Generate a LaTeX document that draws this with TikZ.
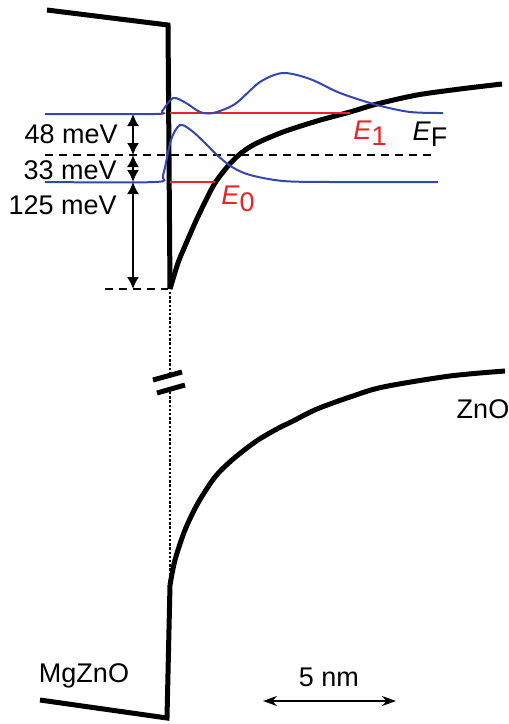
\documentclass[tikz,border=0pt]{standalone}
\usepackage{fontspec}
\setmainfont{Liberation Sans}
\usetikzlibrary{arrows.meta}
\definecolor{wfblue}{RGB}{55,70,175}
\definecolor{lvlred}{RGB}{235,35,40}
\newcommand{\lvl}[1]{\textit{E}\raisebox{-0.45ex}{#1}}

\begin{document}
\begin{tikzpicture}[x=0.5pt,y=-0.5pt,
    band/.style={line width=2.5pt},
    wave/.style={wfblue,line width=1pt},
    level/.style={lvlred,line width=1pt},
    fermi/.style={line width=0.9pt,dash pattern=on 4pt off 3pt},
    dotline/.style={line width=0.6pt,dash pattern=on 1.2pt off 0.9pt},
    mev/.style={{Latex[length=6pt,width=6pt]}-{Latex[length=6pt,width=6pt]},line width=0.8pt},
    lbl/.style={font=\fontsize{13.5}{16}\selectfont,inner sep=0pt}]
    \useasboundingbox (0,0) rectangle (509,724);

    % upper panel: band edge near the interface
    \draw[band] (47,10) -- (168,25) -- (170,289);
    \draw[band] plot[smooth] coordinates {(170,289) (178,263) (185,246) (195,223) (205,202)
        (215,183) (228,166) (240,154) (255,144) (283,132) (317,121) (350,112) (377,104)
        (417,95) (460,89) (502,84)};
    \draw[fermi] (45,155) -- (435,155);
    \draw[fermi] (105,289) -- (168,289);

    % subband levels and wave functions
    \draw[level] (170,113) -- (350,113);
    \draw[level] (170,182) -- (215,182);
    \draw[wave] plot[smooth] coordinates {(45,114) (155,114) (162,111) (173,98) (186,103)
        (200,112) (213,113) (235,104) (260,82) (283,73) (310,79) (340,93) (377,105)
        (410,112) (443,113)};
    \draw[wave] plot[smooth] coordinates {(45,182) (155,182) (163,175) (171,140) (180,125)
        (192,131) (205,143) (217,155) (232,167) (250,175) (283,181) (330,182) (438,182)};

    \coordinate (e1) at (133,114);
    \coordinate (ef) at (133,155);
    \coordinate (e0) at (133,182);
    \coordinate (cb) at (133,289);
    \foreach \a/\b in {e1/ef, ef/e0, e0/cb}
        \draw[mev] (\a) -- (\b);
    \node[lbl,anchor=east] (m48) at (118,134) {48 meV};
    \node[lbl,anchor=east] (m33) at (117,170) {33 meV};
    \node[lbl,anchor=east] (m125) at (117,205) {125 meV};

    \node[lbl,text=lvlred] (lbE0) at (238,199) {\lvl{0}};
    \node[lbl,text=lvlred] (lbE1) at (370,133) {\lvl{1}};
    \node[lbl] (lbEF) at (430,134) {\lvl{F}};

    % axis break
    \draw[dotline] (170,292) -- (170,378);
    \draw[dotline] (170,392) -- (170,585);
    \draw[band] (153,380) -- (182,372);
    \draw[band] (157,393) -- (185,385);

    % lower panel: full band bending
    \draw[band] (40,700) -- (167,718) -- (170,585);
    \draw[band] plot[smooth] coordinates {(170,585) (175,560) (185,530) (198,503) (215,477)
        (232,460) (255,442) (275,430) (293,421) (317,409) (350,397) (383,387) (450,376)
        (505,371)};
    \node[lbl] (zno) at (483,409) {ZnO};
    \node[lbl] (mgzno) at (84,676) {MgZnO};

    % length scale
    \coordinate (sL) at (263,701);
    \coordinate (sR) at (396,701);
    \draw[{Stealth[length=7pt,width=5pt]}-{Stealth[length=7pt,width=5pt]},line width=0.7pt] (sL) -- (sR);
    \node[lbl] (scale) at (329,677) {5 nm};
\end{tikzpicture}
\end{document}
